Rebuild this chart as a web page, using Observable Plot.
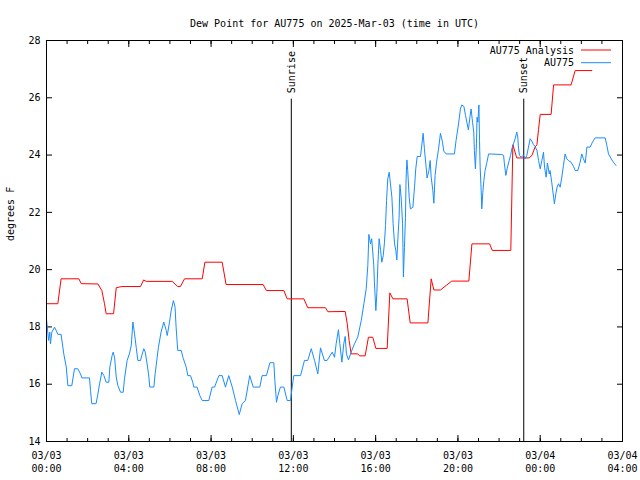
<!DOCTYPE html>
<html><head><meta charset="utf-8">
<script src="https://cdn.jsdelivr.net/npm/d3@7"></script>
<script src="https://cdn.jsdelivr.net/npm/@observablehq/plot@0.6"></script>
<style>
body{margin:0;background:#fff;}
#wrap{position:relative;width:640px;height:480px;}
</style></head><body><div id="wrap"></div>
<script>
const analysisHours = [0, 0.55, 0.71, 1.57, 1.69, 2.50, 2.69, 2.82, 2.90, 3.26, 3.39, 3.66, 4.57, 4.72, 4.85, 6.11, 6.38, 6.51, 6.71, 7.57, 7.70, 8.54, 8.73, 10.53, 10.69, 11.54, 11.70, 12.51, 12.70, 13.56, 13.68, 14.52, 14.62, 14.71, 14.81, 15.13, 15.22, 15.49, 15.65, 15.86, 16.01, 16.56, 16.69, 16.84, 17.53, 17.68, 18.54, 18.70, 18.83, 19.15, 19.43, 19.70, 20.53, 20.68, 21.54, 21.67, 22.57, 22.67, 22.86, 23.46, 23.60, 23.75, 23.84, 23.92, 24.00, 24.53, 24.65, 25.50, 25.70, 26.51];
const analysisValues = [18.81, 18.81, 19.68, 19.68, 19.51, 19.50, 19.27, 18.81, 18.46, 18.46, 19.37, 19.41, 19.41, 19.64, 19.59, 19.59, 19.41, 19.41, 19.68, 19.68, 20.26, 20.26, 19.48, 19.48, 19.27, 19.27, 18.98, 18.98, 18.67, 18.67, 18.53, 18.54, 18.11, 17.53, 17.06, 17.06, 16.99, 16.99, 17.64, 17.64, 17.25, 17.25, 19.19, 18.98, 18.98, 18.14, 18.14, 19.68, 19.29, 19.29, 19.45, 19.60, 19.60, 20.90, 20.90, 20.67, 20.67, 24.36, 23.90, 23.90, 23.99, 24.28, 24.36, 24.90, 25.42, 25.42, 26.45, 26.45, 26.95, 26.95];

const stationHours = [0.00, 0.10, 0.16, 0.19, 0.26, 0.39, 0.47, 0.55, 0.71, 0.84, 0.96, 1.04, 1.23, 1.36, 1.52, 1.65, 1.72, 2.09, 2.14, 2.20, 2.41, 2.50, 2.58, 2.69, 2.79, 2.90, 3.03, 3.08, 3.19, 3.24, 3.31, 3.39, 3.47, 3.60, 3.73, 3.79, 3.92, 4.03, 4.12, 4.20, 4.28, 4.36, 4.44, 4.57, 4.63, 4.73, 4.80, 4.89, 4.96, 5.02, 5.22, 5.28, 5.44, 5.57, 5.70, 5.82, 5.87, 5.98, 6.06, 6.17, 6.25, 6.30, 6.38, 6.55, 6.63, 6.79, 6.87, 7.00, 7.11,
  7.16, 7.32, 7.45, 7.57, 7.89, 8.05, 8.17, 8.38, 8.54, 8.70, 8.86, 9.03, 9.19, 9.37, 9.51, 9.67, 9.88, 10.05, 10.37, 10.48, 10.69, 10.86, 11.05, 11.10, 11.18, 11.25, 11.37, 11.54, 11.62, 11.70, 11.86, 11.89, 12.02, 12.35, 12.54, 12.70, 12.87, 13.03, 13.19, 13.32, 13.51, 13.64, 13.89,
  14.00, 14.08, 14.19, 14.26, 14.36, 14.45, 14.52, 14.58, 14.68, 14.81, 14.97, 15.13, 15.30, 15.43, 15.54, 15.62, 15.67, 15.75, 15.81, 15.91, 15.94, 16.01, 16.06, 16.11, 16.17, 16.24, 16.30, 16.37, 16.43, 16.48, 16.53, 16.59, 16.66, 16.72, 16.79, 16.85, 16.92, 16.98, 17.03, 17.08, 17.14, 17.18, 17.24, 17.31, 17.35, 17.40, 17.45, 17.48, 17.52, 17.56, 17.63, 17.69, 17.81, 17.89, 17.95, 18.02, 18.18, 18.25, 18.31, 18.37, 18.44, 18.50, 18.59, 18.65, 18.70, 18.78, 18.83, 18.89, 18.96, 19.06, 19.15, 19.25, 19.31, 19.43, 19.83, 19.91, 20.03, 20.12, 20.19, 20.29, 20.37, 20.45, 20.51, 20.58, 20.64, 20.71, 20.77, 20.80, 20.85, 20.90, 20.93, 20.97, 21.02,
  21.05, 21.08, 21.13, 21.16, 21.21, 21.26, 21.32, 21.41, 21.49, 22.13, 22.22, 22.26, 22.33, 22.39, 22.49, 22.56, 22.62, 22.70, 22.78, 22.86, 22.91, 22.94, 22.99, 23.07, 23.19, 23.27, 23.35, 23.43, 23.51, 23.59, 23.67, 23.75, 23.84, 23.92, 24.00, 24.08, 24.16, 24.21, 24.29, 24.35, 24.44, 24.48, 24.56, 24.65, 24.69, 24.76, 24.82, 24.89, 24.97, 25.05, 25.13, 25.21, 25.29, 25.37, 25.50, 25.62, 25.70, 25.83, 25.94, 26.02, 26.10, 26.19, 26.27, 26.43, 26.54, 26.67, 27.16, 27.24, 27.32, 27.45, 27.56, 27.68];
const stationValues = [18.28, 17.53, 17.82, 17.41, 17.82, 17.99, 17.88, 17.74, 17.74, 17.06, 16.60, 15.95, 15.95, 16.54, 16.54, 16.36, 16.22, 16.22, 15.78, 15.32, 15.32, 15.66, 16.01, 16.42, 16.30, 16.07, 16.07, 16.60, 17.00, 17.12, 16.94, 16.25, 15.95, 15.72, 15.72, 16.19, 16.83, 17.06, 17.35, 18.17, 17.76, 17.29, 16.83, 16.83, 17.00, 17.24, 17.12, 16.71, 16.36, 15.90, 15.90, 16.36, 17.29, 17.82, 18.17, 17.88, 17.70, 18.17, 18.57, 18.92, 18.69, 17.99, 17.18, 17.18, 16.94, 16.60, 16.30, 16.30, 16.07,
  15.90, 15.90, 15.61, 15.43, 15.43, 15.90, 15.90, 16.30, 16.30, 15.90, 16.30, 15.90, 15.43, 14.94, 15.32, 15.43, 16.30, 15.90, 15.90, 16.30, 16.30, 16.75, 16.75, 16.13, 15.37, 15.61, 15.90, 15.90, 15.66, 15.43, 15.43, 15.61, 16.30, 16.30, 16.83, 16.83, 17.24, 16.83, 16.36, 17.27, 16.83, 16.83, 17.12,
  16.94, 17.41, 17.90, 17.41, 16.77, 17.41, 17.67, 17.06, 16.85, 17.12, 17.41, 17.64, 18.22, 18.81, 19.33, 20.14, 21.23, 20.90, 21.08, 20.14, 19.56, 18.57, 19.21, 20.20, 21.08, 20.67, 20.26, 20.49, 20.96, 21.54, 22.41, 23.17, 23.40, 22.99, 22.53, 21.60, 20.90, 20.67, 20.34, 21.08, 21.83, 22.97, 22.53, 21.60, 19.74, 20.78, 21.83, 23.17, 23.83, 23.46, 22.53, 22.12, 22.18, 22.88, 23.52, 23.95, 23.95, 24.39, 24.76, 24.22, 23.69, 23.20, 23.46, 23.81, 23.23, 22.76, 22.32, 23.29, 23.75, 24.22, 24.76, 24.45, 24.14, 24.04, 24.04, 24.51, 25.09, 25.61, 25.75, 25.70, 25.38, 25.09, 24.88, 25.32, 25.61, 25.15, 24.80, 24.16, 23.52, 24.39, 25.32, 25.15, 25.75,
  24.51, 23.58, 22.76, 22.12, 22.70, 23.11, 23.46, 23.75, 24.04, 24.02, 23.99, 23.69, 23.29, 23.52, 23.81, 23.99, 24.22, 24.39, 24.57, 24.80, 24.63, 24.28, 23.99, 23.93, 23.99, 23.87, 23.99, 24.28, 24.57, 24.49, 24.37, 24.30, 24.16, 23.81, 23.52, 23.81, 24.10, 23.58, 23.23, 23.72, 23.34, 23.46, 23.05, 22.53, 22.30, 22.65, 22.88, 23.00, 22.88, 23.23, 23.64, 24.04, 23.87, 23.81, 23.75, 23.60, 23.46, 23.46, 23.75, 24.04, 23.87, 23.72, 24.28, 24.28, 24.45, 24.60, 24.60, 24.33, 24.04, 23.87, 23.75, 23.64];

const yTicks = [14, 16, 18, 20, 22, 24, 26, 28];
const xTickHours = [0, 4, 8, 12, 16, 20, 24, 28];
const xTickLabels = ["03/03\n00:00", "03/03\n04:00", "03/03\n08:00", "03/03\n12:00", "03/03\n16:00", "03/03\n20:00", "03/04\n00:00", "03/04\n04:00"];
const events = ["Sunrise", "Sunset"];
const eventHours = [11.90, 23.20];
const seriesNames = ["AU775 Analysis", "AU775"];
const seriesColors = ["#ff0000", "#1a8cff"];
const title = "Dew Point for AU775 on 2025-Mar-03 (time in UTC)";
const yLabel = "degrees F";

const FONT = "'DejaVu Sans Mono', monospace";
const base = Date.UTC(2025, 2, 3, 0, 0);
const T = h => new Date(base + h * 3600000);
const analysis = analysisHours.map((h, i) => ({t: T(h), v: analysisValues[i]}));
const station = stationHours.map((h, i) => ({t: T(h), v: stationValues[i]}));
const ev = events.map((name, i) => ({name, t: T(eventHours[i])}));
const hourTicks = d3.range(0, 29).map(T);
const majorTicks = xTickHours.map(T);

const plot = Plot.plot({
  width: 640, height: 480,
  marginLeft: 46, marginRight: 18, marginTop: 40, marginBottom: 39,
  style: {fontFamily: FONT, fontSize: "10px", background: "white", color: "black"},
  x: {type: "utc", domain: [T(0), T(28)]},
  y: {domain: [14, 28]},
  marks: [
    Plot.axisX({anchor: "bottom", ticks: hourTicks, tickSize: -3, tickFormat: () => "", label: null}),
    Plot.axisX({anchor: "top", ticks: hourTicks, tickSize: -3, tickFormat: () => "", label: null}),
    Plot.axisX({anchor: "bottom", ticks: majorTicks, tickSize: -6, tickFormat: () => "", label: null}),
    Plot.axisX({anchor: "top", ticks: majorTicks, tickSize: -6, tickFormat: () => "", label: null}),
    Plot.axisY({anchor: "left", ticks: yTicks, tickSize: -6, tickFormat: () => "", label: null}),
    Plot.axisY({anchor: "right", ticks: yTicks, tickSize: -6, tickFormat: () => "", label: null}),
    Plot.axisY({anchor: "left", ticks: yTicks, tickSize: 0, tickPadding: 6, label: null}),
    Plot.text(xTickHours, {x: h => T(h), text: (d, i) => xTickLabels[i], frameAnchor: "bottom", lineAnchor: "top", dy: 8, lineHeight: 1.3}),
    Plot.ruleX(ev, {x: "t", y1: 14, y2: 25.95, stroke: "black"}),
    Plot.text(ev, {x: "t", y: 25.95, text: "name", rotate: -90, textAnchor: "start", dy: -6}),
    Plot.line(analysis, {x: "t", y: "v", stroke: seriesColors[0], strokeWidth: 1}),
    Plot.line(station, {x: "t", y: "v", stroke: seriesColors[1], strokeWidth: 1}),
    Plot.frame({stroke: "black"}),
    Plot.text([title], {frameAnchor: "top", dy: -21}),
    Plot.text([yLabel], {frameAnchor: "left", rotate: -90, dx: -36})
  ]
});

const wrap = document.getElementById("wrap");
wrap.append(plot);
const leg = d3.select(wrap).append("svg")
  .attr("width", 640).attr("height", 80)
  .style("position", "absolute").style("left", "0px").style("top", "0px")
  .style("font-family", FONT).style("font-size", "10px");
seriesNames.forEach((n, i) => {
  const y = 50 + i * 12.7;
  leg.append("text").attr("x", 574).attr("y", y).attr("dy", "0.35em").attr("text-anchor", "end").attr("fill", "black").text(n);
  leg.append("line").attr("x1", 581).attr("x2", 611).attr("y1", y).attr("y2", y).attr("stroke", seriesColors[i]).attr("stroke-width", 1);
});
</script></body></html>
